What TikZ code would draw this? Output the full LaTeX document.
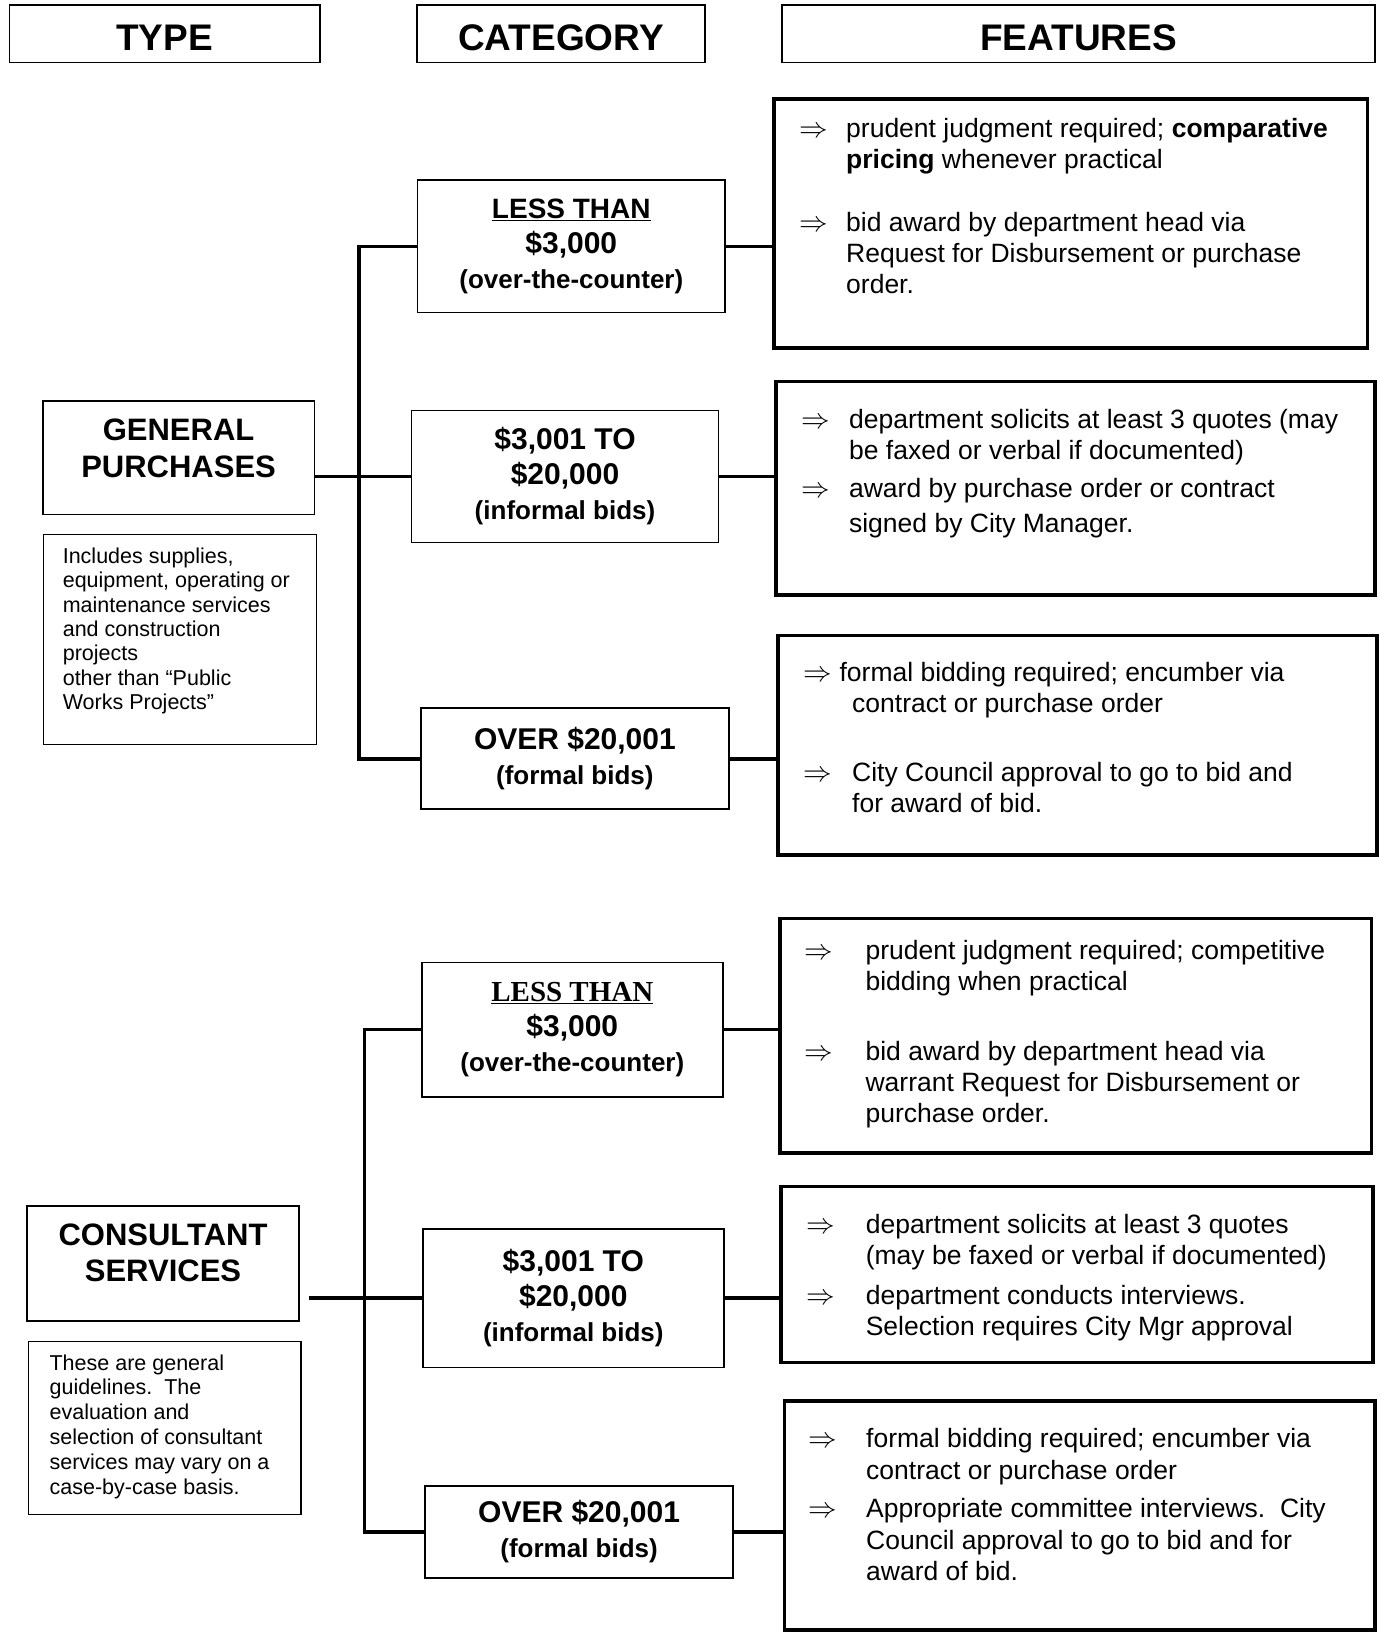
\documentclass[tikz,border=0pt]{standalone}
\usepackage{fontspec}
\setmainfont{Liberation Sans}
\newfontfamily\serifTimes{Liberation Serif}
\newcommand\farr{\scalebox{1.15}{$\Rightarrow$}}
\begin{document}
\begin{tikzpicture}[x=1pt,y=-1pt,
  hdr/.style={draw, line width=1.8pt, font=\fontsize{37}{40}\selectfont\bfseries, inner sep=0pt, text height=33pt, text depth=0pt},
  typebox/.style={draw, line width=1.6pt, inner sep=0pt},
  typetext/.style={anchor=base, inner sep=0pt, font=\fontsize{31}{37}\selectfont\bfseries},
  notebox/.style={draw, line width=1.2pt, inner sep=0pt},
  catbox/.style={draw, line width=1.6pt, align=center, font=\fontsize{30}{35}\selectfont\bfseries, inner sep=0pt},
  featbox/.style={draw, line width=3.5pt, inner sep=0pt},
  ftext/.style={anchor=base west, inner sep=0pt, font=\fontsize{26.5}{31}\selectfont},
  ntext/.style={anchor=base west, inner sep=0pt},
  conn/.style={line width=3.8pt},
]
\fill[white] (0,0) rectangle (1379,1633);
\useasboundingbox (0,0) rectangle (1379,1633);

% headers
\node[hdr, minimum width=310.3pt, minimum height=57.3pt] (hT) at (164.6,33.9) {TYPE};
\node[hdr, minimum width=288.5pt, minimum height=57.3pt] (hC) at (560.9,33.9) {CATEGORY};
\node[hdr, minimum width=592.6pt, minimum height=57.3pt] (hF) at (1078.5,33.9) {FEATURES};

% ---------- General purchases ----------
\node[typebox, minimum width=271.8pt, minimum height=113.5pt] (gp) at (178.6,457.8) {};
\node[typetext] (gpt) at (178.6,440) {\begin{tabular}[t]{@{}c@{}}GENERAL\\PURCHASES\end{tabular}};
\node[notebox, minimum width=272.9pt, minimum height=210.4pt] (gpn) at (180.2,639.5) {};
\node[ntext, font=\fontsize{21.5}{24.4}\selectfont] (gpnt) at (62.6,563.3) {\begin{tabular}[t]{@{}l@{}}
Includes supplies,\\
equipment, operating or\\
maintenance services\\
and construction\\
projects\\
other than “Public\\
Works Projects”
\end{tabular}};

\node[catbox, minimum width=307.3pt, minimum height=132.3pt] (c1) at (571.3,246.4)
  {{\fontsize{28}{35}\selectfont\underline{LESS THAN}}\\ \$3,000\\ {\fontsize{26}{35}\selectfont (over-the-counter)}};
\node[catbox, minimum width=307.2pt, minimum height=132.2pt] (c2) at (565,476.5)
  {\$3,001 TO\\ \$20,000\\ {\fontsize{26}{35}\selectfont (informal bids)}};
\node[catbox, minimum width=308.2pt, minimum height=101pt] (c3) at (574.9,758.7)
  {OVER \$20,001\\ {\fontsize{26}{35}\selectfont (formal bids)}};

\node[featbox, minimum width=593.6pt, minimum height=249pt] (f1) at (1070.6,223.4) {};
\node[featbox, minimum width=599.1pt, minimum height=213.5pt] (f2) at (1075.5,488) {};
\node[featbox, minimum width=599pt, minimum height=219.7pt] (f3) at (1077.5,745.2) {};

\node[ftext] (f1t) at (799.5,137) {\begin{tabular}[t]{@{}p{46.5pt}@{}l@{}}
\farr & prudent judgment required; \textbf{comparative}\\
 & \textbf{pricing} whenever practical\\[32pt]
\farr & bid award by department head via\\
 & Request for Disbursement or purchase\\
 & order.
\end{tabular}};
\node[ftext] (f2t) at (801.5,428.3) {\begin{tabular}[t]{@{}p{47.4pt}@{}l@{}}
\farr & department solicits at least 3 quotes (may\\
 & be faxed or verbal if documented)\\[7pt]
\farr & award by purchase order or contract\\[4pt]
 & signed by City Manager.
\end{tabular}};
\node[ftext] (f3t) at (802.8,681) {\begin{tabular}[t]{@{}p{49.2pt}@{}l@{}}
\multicolumn{2}{@{}l@{}}{\farr\hspace{8pt}formal bidding required; encumber via}\\
 & contract or purchase order\\[38pt]
\farr & City Council approval to go to bid and\\
 & for award of bid.
\end{tabular}};

\coordinate (gtr) at (359.3,0);
\draw[conn] (gp.east |- c2.west) -- (c2.west);
\draw[conn] (c1.west) -- (c1.west -| gtr) -- (c3.west -| gtr) -- (c3.west);
\draw[conn] (c1.east) -- (c1.east -| f1.west);
\draw[conn] (c2.east) -- (c2.east -| f2.west);
\draw[conn] (c3.east) -- (c3.east -| f3.west);

% ---------- Consultant services ----------
\node[typebox, minimum width=271.8pt, minimum height=114.7pt] (cs) at (163,1263.4) {};
\node[typetext] (cst) at (163,1245) {\begin{tabular}[t]{@{}c@{}}CONSULTANT\\[-0.3pt]SERVICES\end{tabular}};
\node[notebox, minimum width=272.9pt, minimum height=172.8pt] (csn) at (164.6,1427.9) {};
\node[ntext, font=\fontsize{21.5}{24.9}\selectfont] (csnt) at (49.4,1370) {\begin{tabular}[t]{@{}l@{}}
These are general\\
guidelines.\ \ The\\
evaluation and\\
selection of consultant\\
services may vary on a\\
case-by-case basis.
\end{tabular}};

\node[catbox, minimum width=301pt, minimum height=134.4pt] (cc1) at (572.3,1029.5)
  {{\serifTimes\fontsize{29}{35}\selectfont\underline{LESS THAN}}\\ \$3,000\\ {\fontsize{26}{35}\selectfont (over-the-counter)}};
\node[catbox, minimum width=301pt, minimum height=138.5pt] (cc2) at (573.3,1298.3)
  {\$3,001 TO\\ \$20,000\\ {\fontsize{26}{35}\selectfont (informal bids)}};
\node[catbox, minimum width=308.2pt, minimum height=91.7pt] (cc3) at (579.1,1532)
  {OVER \$20,001\\ {\fontsize{26}{35}\selectfont (formal bids)}};

\node[featbox, minimum width=591.6pt, minimum height=234.4pt] (f4) at (1075.8,1035.8) {};
\node[featbox, minimum width=591.7pt, minimum height=176pt] (f5) at (1077,1274.3) {};
\node[featbox, minimum width=590.5pt, minimum height=229.2pt] (f6) at (1079.6,1515.4) {};

\node[ftext] (f4t) at (804.4,959) {\begin{tabular}[t]{@{}p{61pt}@{}l@{}}
\farr & prudent judgment required; competitive\\
 & bidding when practical\\[39pt]
\farr & bid award by department head via\\
 & warrant Request for Disbursement or\\
 & purchase order.
\end{tabular}};
\node[ftext] (f5t) at (806.6,1233) {\begin{tabular}[t]{@{}p{59pt}@{}l@{}}
\farr & department solicits at least 3 quotes\\
 & (may be faxed or verbal if documented)\\[9pt]
\farr & department conducts interviews.\\
 & Selection requires City Mgr approval
\end{tabular}};
\node[ftext] (f6t) at (808,1447) {\begin{tabular}[t]{@{}p{58pt}@{}l@{}}
\farr & formal bidding required; encumber via\\[1pt]
 & contract or purchase order\\[7pt]
\farr & Appropriate committee interviews.\ \ City\\[1pt]
 & Council approval to go to bid and for\\
 & award of bid.
\end{tabular}};

\coordinate (ctr) at (364.5,0);
\draw[conn, shorten <=9pt] (cs.east |- cc2.west) -- (cc2.west);
\draw[conn] (cc1.west) -- (cc1.west -| ctr) -- (cc3.west -| ctr) -- (cc3.west);
\draw[conn] (cc1.east) -- (cc1.east -| f4.west);
\draw[conn] (cc2.east) -- (cc2.east -| f5.west);
\draw[conn] (cc3.east) -- (cc3.east -| f6.west);
\end{tikzpicture}
\end{document}
